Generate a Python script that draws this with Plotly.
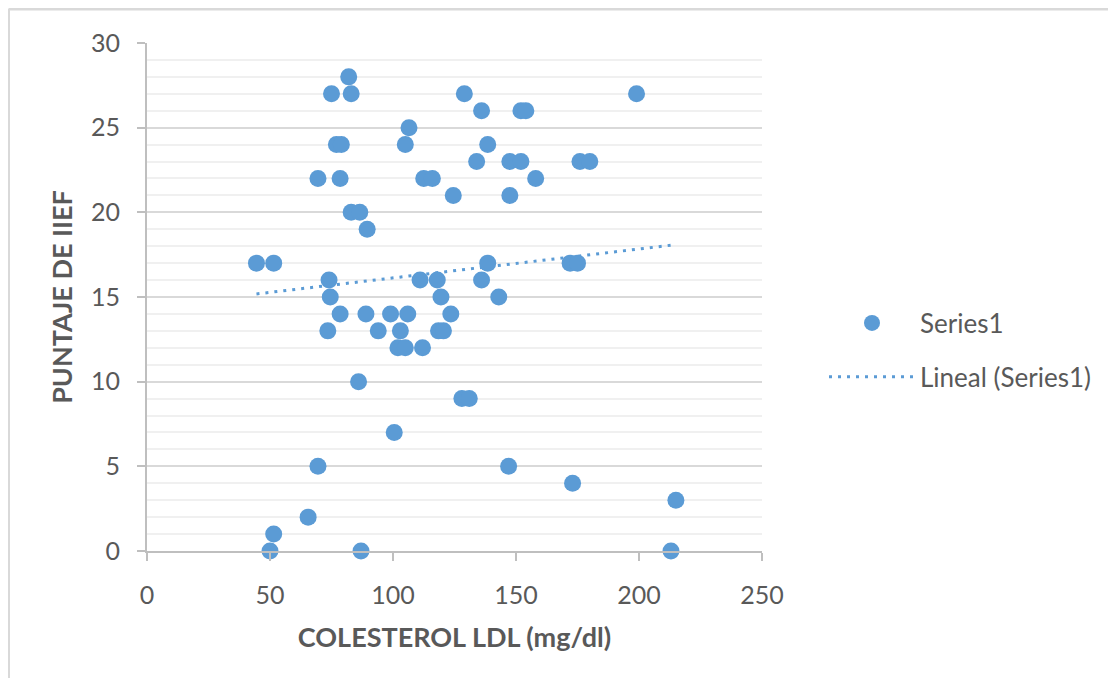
import numpy as np
import plotly.graph_objects as go

# LDL cholesterol (mg/dl) and IIEF score
ldl = [82,
       75, 83, 129, 199,
       136, 152, 154,
       106.5,
       77, 79, 105, 138.5,
       134, 147.5, 152, 176, 180,
       69.5, 78.5, 112.5, 116, 158,
       124.5, 147.5,
       83, 86.5,
       89.5,
       44.5, 51.5, 138.5, 172, 175,
       74, 111, 118, 136,
       74.5, 119.5, 143,
       78.5, 89, 99, 106, 123.5,
       73.5, 94, 103, 118.5, 120.5,
       102, 105, 112,
       86,
       128, 131,
       100.5,
       69.5, 147,
       173,
       215,
       65.5,
       51.5,
       50, 87, 213]
iief = [28,
        27, 27, 27, 27,
        26, 26, 26,
        25,
        24, 24, 24, 24,
        23, 23, 23, 23, 23,
        22, 22, 22, 22, 22,
        21, 21,
        20, 20,
        19,
        17, 17, 17, 17, 17,
        16, 16, 16, 16,
        15, 15, 15,
        14, 14, 14, 14, 14,
        13, 13, 13, 13, 13,
        12, 12, 12,
        10,
        9, 9,
        7,
        5, 5,
        4,
        3,
        2,
        1,
        0, 0, 0]

x_title = "COLESTEROL LDL (mg/dl)"
y_title = "PUNTAJE DE IIEF"
series_name = "Series1"
trend_name = "Lineal (Series1)"

# linear trendline fitted to the data
slope, intercept = np.polyfit(ldl, iief, 1)
trend_x = [min(ldl), max(ldl)]
trend_y = [slope * v + intercept for v in trend_x]

BLUE = "#5B9BD5"
TXT = "#595959"
FONT = "Lato"

W, H = 1100, 670
L, R, T, B = 139, 346, 35, 127
pw, ph = W - L - R, H - T - B

fig = go.Figure()
fig.add_trace(go.Scatter(
    x=trend_x, y=trend_y, mode="lines", name=trend_name,
    line=dict(color=BLUE, width=3, dash="3px,6px"),
    legendgroup="b", legendrank=2, cliponaxis=False, hoverinfo="skip"))
fig.add_trace(go.Scatter(
    x=ldl, y=iief, mode="markers", name=series_name,
    marker=dict(color=BLUE, size=17, line=dict(width=0)),
    legendgroup="a", legendrank=1, cliponaxis=False))

axis_common = dict(
    showline=True, linecolor="#bfbfbf", linewidth=2,
    ticks="outside", ticklen=8, tickwidth=2, tickcolor="#bfbfbf",
    zeroline=False,
    tickfont=dict(family=FONT, size=25, color=TXT),
)

fig.update_layout(
    width=W, height=H,
    margin=dict(l=L, r=R, t=T, b=B, autoexpand=False),
    paper_bgcolor="white", plot_bgcolor="white",
    font=dict(family=FONT, color=TXT),
    xaxis=dict(
        range=[0, 250], tick0=0, dtick=50, showgrid=False,
        ticklabelstandoff=13,
        title=dict(text=x_title, standoff=20,
                   font=dict(family=FONT, size=27, color=TXT, weight="bold")),
        **axis_common),
    yaxis=dict(
        range=[0, 30], tick0=0, dtick=5,
        showgrid=True, gridcolor="#d9d9d9", gridwidth=2,
        minor=dict(dtick=1, showgrid=True, gridcolor="#f0f0f0", gridwidth=2, ticks=""),
        ticklabelstandoff=12,
        title=dict(text=y_title, standoff=11,
                   font=dict(family=FONT, size=27, color=TXT, weight="bold")),
        **axis_common),
    legend=dict(
        x=(824 - 8 - L) / pw, xanchor="left",
        y=(551 - 350) / ph, yanchor="middle",
        font=dict(family=FONT, size=26, color=TXT),
        itemwidth=86, tracegroupgap=17, traceorder="grouped",
        bgcolor="rgba(0,0,0,0)"),
    showlegend=True,
)

# chart-area border (left and top edges visible)
left_x = (0.5 - L) / pw
top_y = 1 + (T - 1) / ph
fig.add_shape(type="line", xref="paper", yref="paper",
              x0=left_x, x1=left_x, y0=-B / ph, y1=top_y,
              line=dict(color="#d9d9d9", width=3))
fig.add_shape(type="line", xref="paper", yref="paper",
              x0=left_x, x1=1 + R / pw, y0=top_y, y1=top_y,
              line=dict(color="#d9d9d9", width=3))

fig.write_html("out.html")
